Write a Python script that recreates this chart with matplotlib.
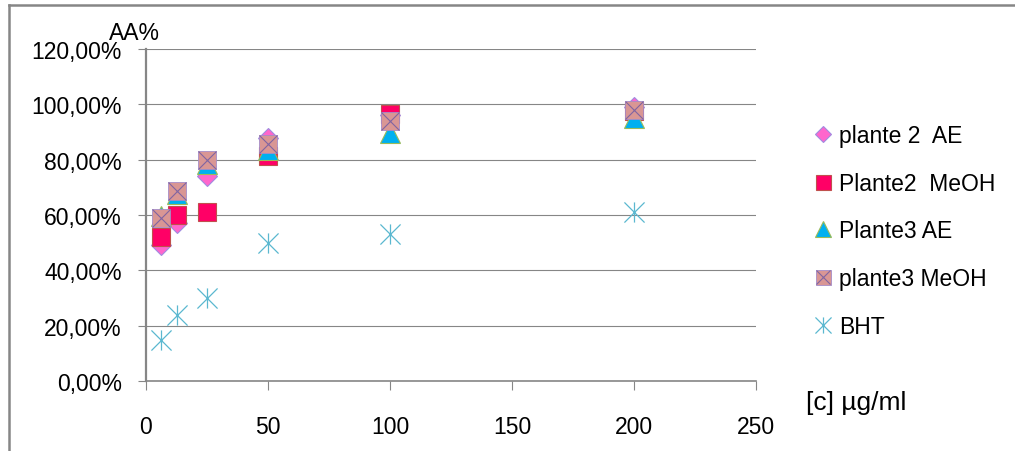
import numpy as np
import matplotlib
matplotlib.use("Agg")
import matplotlib.pyplot as plt
from matplotlib.lines import Line2D
from matplotlib.path import Path
from matplotlib.legend_handler import HandlerTuple
from matplotlib.ticker import FuncFormatter

plt.rcParams['font.family'] = ['Liberation Sans', 'DejaVu Sans']

# concentrations (µg/ml) and antioxidant activity (%)
conc = [6.25, 12.5, 25, 50, 100, 200]
plante2_ae = [49, 57, 74, 88, 96, 99]
plante2_meoh = [52, 60, 61, 81.5, 96.5, 97.5]
plante3_ae = [59.5, 67.5, 78.5, 83.5, 89.5, 95]
plante3_meoh = [59, 68.5, 80, 85.5, 94, 98]
bht = [15, 24, 30, 50, 53, 61]

labels = ["plante 2  AE", "Plante2  MeOH", "Plante3 AE", "plante3 MeOH", "BHT"]
y_ticks = [0, 20, 40, 60, 80, 100, 120]
x_ticks = [0, 50, 100, 150, 200, 250]

grey = "#868686"
fs = 16.5

# vertical bar + X, like the spreadsheet "star" marker
star = Path([(0, -1), (0, 1), (-1, -1), (1, 1), (-1, 1), (1, -1)],
            [Path.MOVETO, Path.LINETO, Path.MOVETO, Path.LINETO, Path.MOVETO, Path.LINETO])

fig = plt.figure(figsize=(10.15, 4.52), dpi=100)
ax = fig.add_axes([146 / 1015, 1 - 382 / 452, 610 / 1015, 332 / 452])

ms = 13.5
h1, = ax.plot(conc, plante2_ae, ls="none", marker="D", ms=10,
              mfc="#FF66CC", mec="#A08CE0", mew=0.8)
h2, = ax.plot(conc, plante2_meoh, ls="none", marker="s", ms=ms,
              mfc="#FF0066", mec="#C0504D", mew=0.8)
h3, = ax.plot(conc, plante3_ae, ls="none", marker="^", ms=ms + 1,
              mfc="#00B0F0", mec="#9BBB59", mew=0.8)
h4a, = ax.plot(conc, plante3_meoh, ls="none", marker="s", ms=ms,
               mfc="#D99694", mec="#A58CC8", mew=0.6)
h4b, = ax.plot(conc, plante3_meoh, ls="none", marker="x", ms=ms - 1,
               mec="#8064A2", mew=0.8)
h5, = ax.plot(conc, bht, ls="none", marker=star, ms=14.5,
              mec="#5BB8D0", mfc="none", mew=0.9)

ax.set_xlim(0, 250)
ax.set_ylim(0, 120)
ax.set_xticks(x_ticks)
ax.set_yticks(y_ticks)
ax.yaxis.set_major_formatter(FuncFormatter(lambda v, p: f"{v:.2f}%".replace(".", ",")))

ax.grid(axis="y", color=grey, lw=0.8)
ax.set_axisbelow(True)
for s in ["top", "right"]:
    ax.spines[s].set_visible(False)
ax.spines["left"].set_color(grey)
ax.spines["left"].set_linewidth(1.6)
ax.spines["bottom"].set_color(grey)
ax.spines["bottom"].set_linewidth(1.2)

ax.tick_params(axis="x", direction="out", length=6.5, width=0.8, color=grey,
               pad=18, labelsize=fs)
ax.tick_params(axis="y", direction="out", length=6, width=0.8, color=grey,
               pad=11.5, labelsize=fs)

fig.text(134 / 1015, 1 - 33 / 452, "AA%", fontsize=fs, ha="center", va="center")
fig.text(806 / 1015, 1 - 403 / 452, "[c] µg/ml", fontsize=19, ha="left", va="center")

leg = ax.legend([h1, h2, h3, (h4a, h4b), h5], labels,
                handler_map={tuple: HandlerTuple(ndivide=1, pad=0)},
                loc="upper left", bbox_to_anchor=(815 / 1015, 1 - 125 / 452),
                bbox_transform=fig.transFigure, frameon=False, fontsize=fs,
                borderpad=0, borderaxespad=0, labelspacing=1.08,
                handlelength=0.7, handletextpad=0.35, markerscale=0.8)

# chart area border
fig.add_artist(Line2D([8.5 / 1015, 8.5 / 1015], [0, 1 - 6 / 452],
                      transform=fig.transFigure, color=grey, lw=1.8))
fig.add_artist(Line2D([8.5 / 1015, 1], [1 - 6 / 452, 1 - 6 / 452],
                      transform=fig.transFigure, color=grey, lw=1.8))

fig.savefig("out.png", dpi=100)
